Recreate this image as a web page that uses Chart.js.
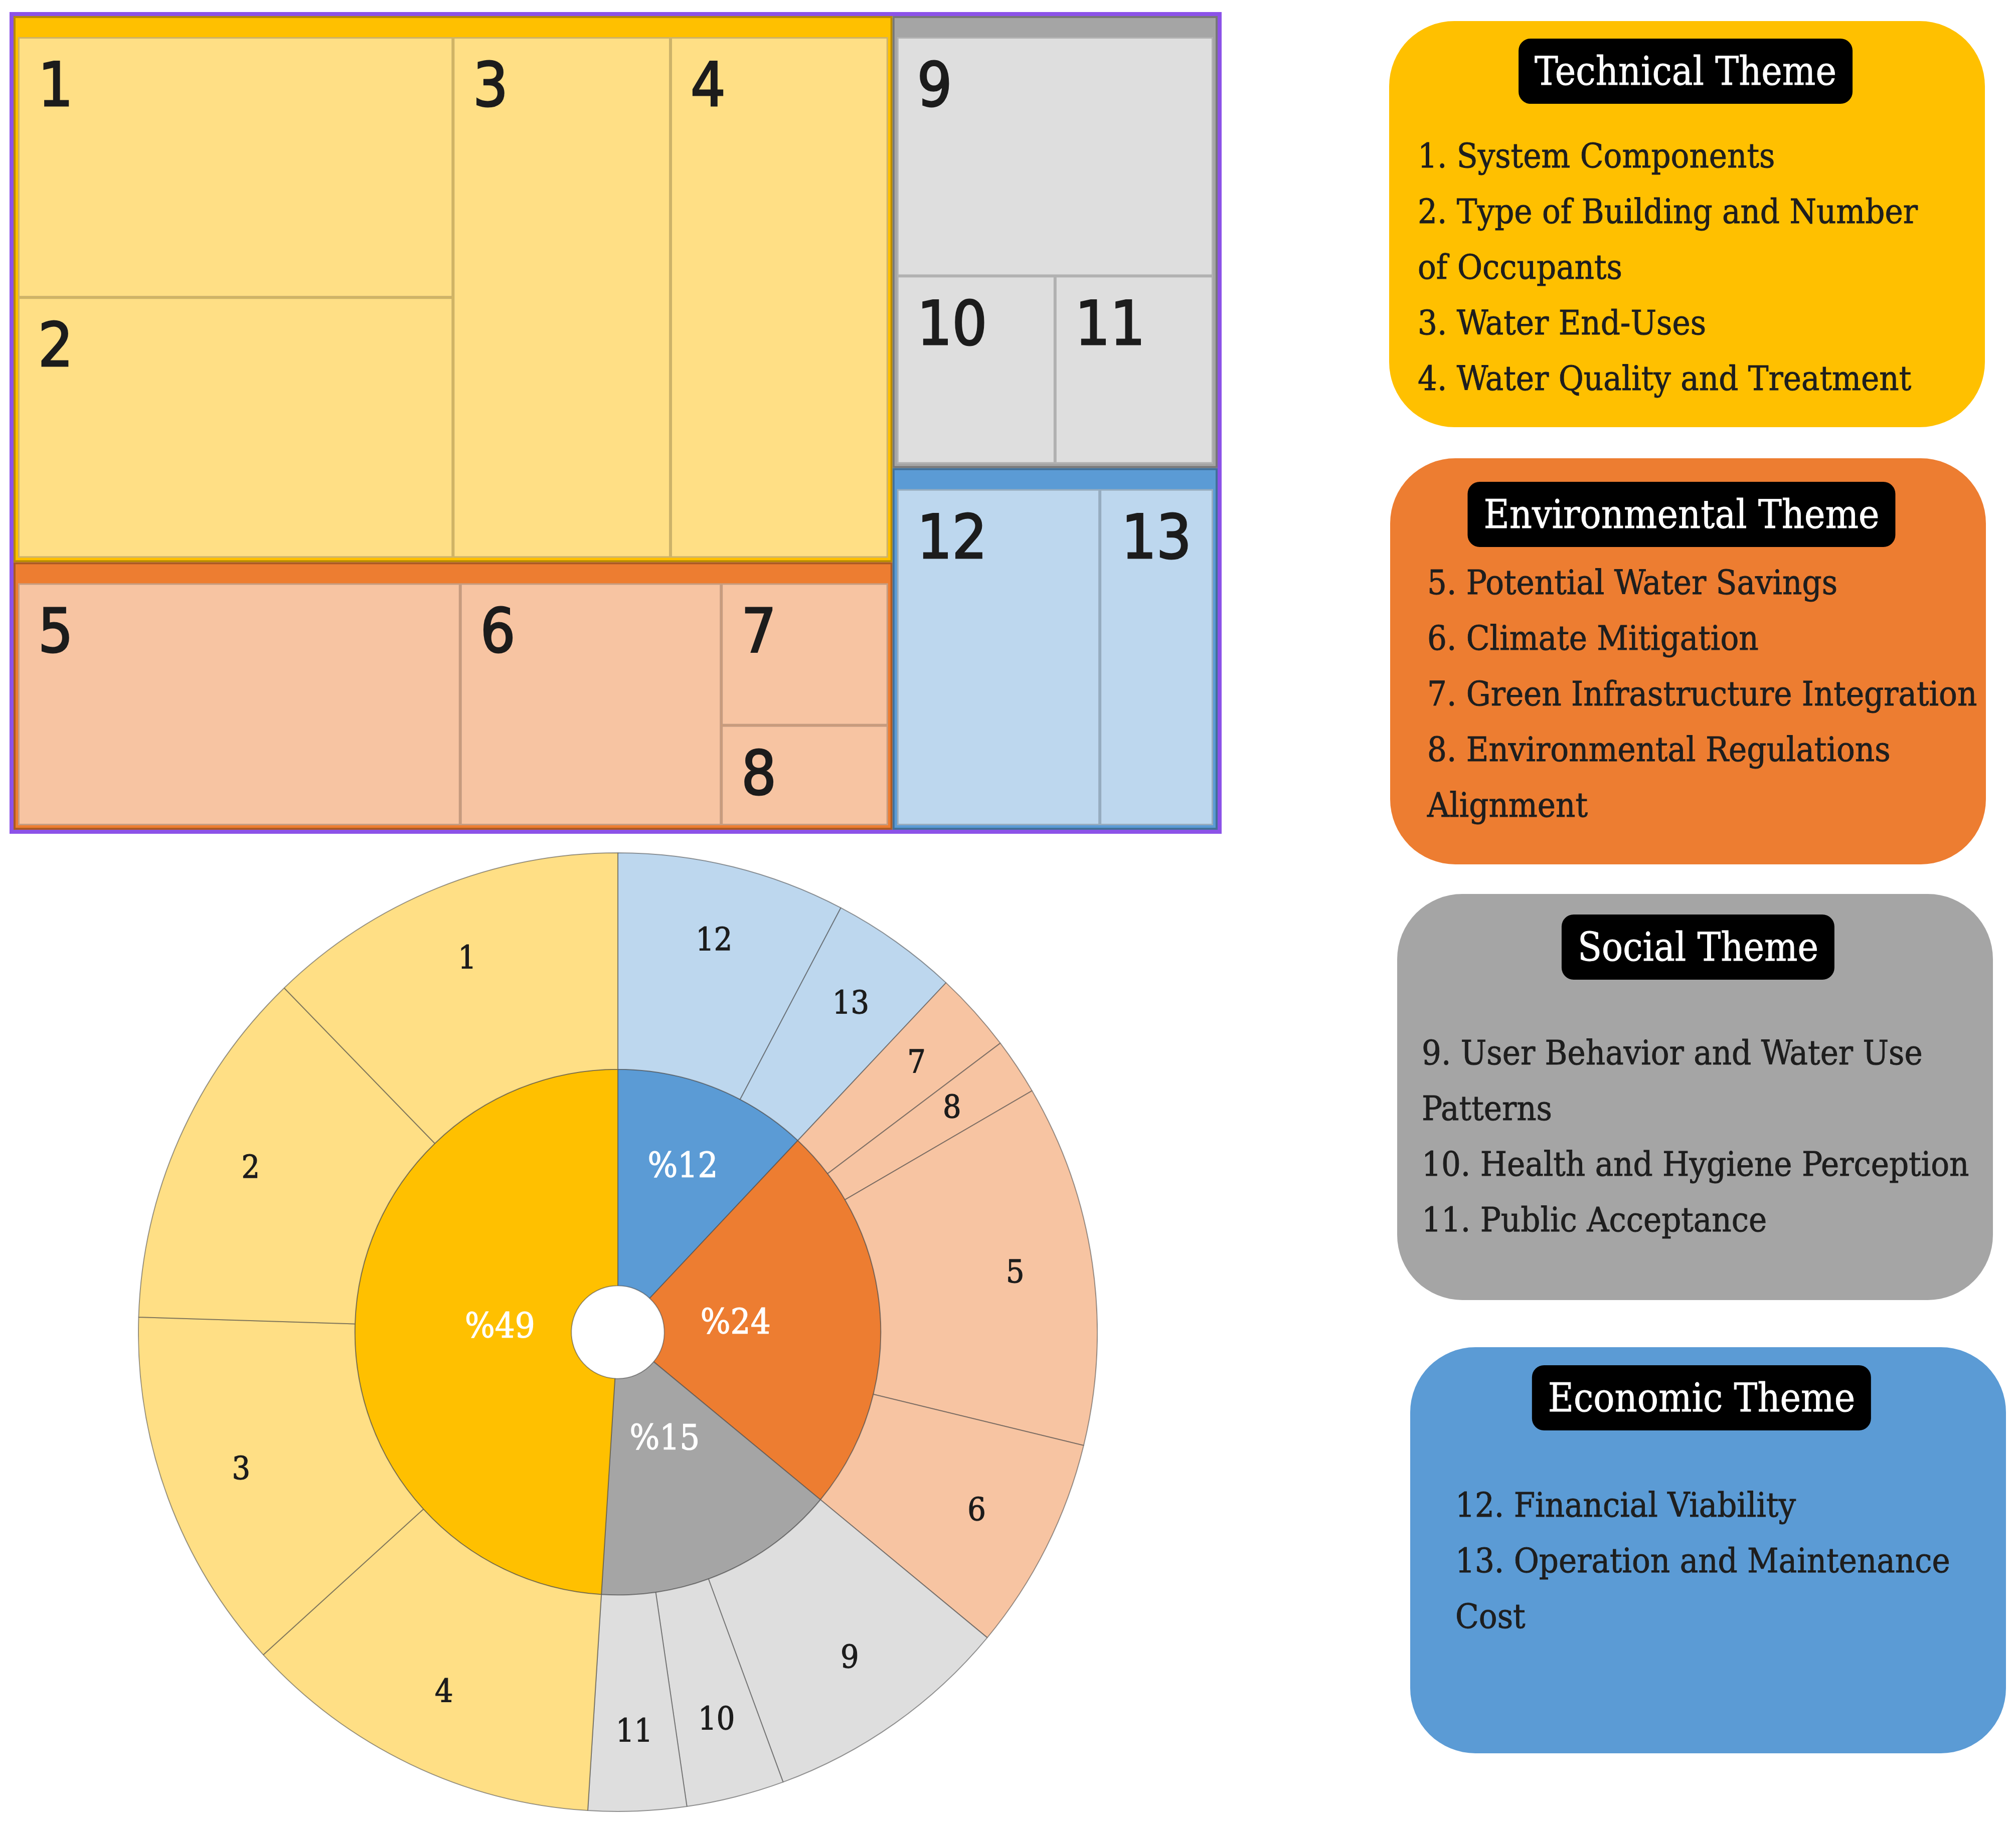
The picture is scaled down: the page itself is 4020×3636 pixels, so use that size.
<!DOCTYPE html>
<html>
<head>
<meta charset="utf-8">
<script src="https://cdn.jsdelivr.net/npm/chart.js@4.4.1/dist/chart.umd.min.js"></script>
<style>
  html, body { margin: 0; padding: 0; background: #fff; }
  body { width: 4020px; height: 3636px; position: relative; overflow: hidden;
         font-family: "DejaVu Serif Condensed", "DejaVu Serif", serif; }
  #treeWrap { position: absolute; left: 19px; top: 24px; width: 2401px; height: 1623px;
              border: 8px solid #8c52e8; }
  #treeWrap canvas, #sunWrap canvas { display: block; }
  #sunWrap { position: absolute; left: 275px; top: 1700px; width: 1914px; height: 1914px; }
  .theme { position: absolute; width: 1188px; height: 810px; border-radius: 130px; }
  .pill { position: absolute; background: #000; color: #fff; border-radius: 24px;
          height: 130px; line-height: 130px; padding: 0 32px; font-size: 78px; white-space: nowrap;
          -webkit-text-stroke: 0.8px #fff; }
  .items { position: absolute; font-size: 68px; line-height: 111px; color: #1e1e1e;
           -webkit-text-stroke: 0.9px #1e1e1e; }
</style>
</head>
<body>
<div id="treeWrap"><canvas id="tree" width="2401" height="1623"></canvas></div>
<div id="sunWrap"><canvas id="sun" width="1914" height="1914"></canvas></div>
<div id="legends"></div>
<script>
// themes (inner ring / treemap groups)
const themes = ['Technical', 'Environmental', 'Social', 'Economic'];
const themeShare = [49, 24, 15, 12];
const themeColor = ['#FFC000', '#ED7D31', '#A5A5A5', '#5B9BD5'];
const criterionColor = ['#FFDF85', '#F7C4A2', '#DEDEDE', '#BDD7EE'];

// criteria 1..13 (outer ring / treemap cells)
const criteria = [
  'System Components', 'Type of Building and Number of Occupants', 'Water End-Uses',
  'Water Quality and Treatment', 'Potential Water Savings', 'Climate Mitigation',
  'Green Infrastructure Integration', 'Environmental Regulations Alignment',
  'User Behavior and Water Use Patterns', 'Health and Hygiene Perception', 'Public Acceptance',
  'Financial Viability', 'Operation and Maintenance Cost'
];
const criterionTheme = [0, 0, 0, 0, 1, 1, 1, 1, 2, 2, 2, 3, 3];
const criterionShare = [12.25, 12.25, 12.25, 12.25, 12.2, 7.2, 2.7, 1.9, 8.4, 3.3, 3.3, 7.7, 4.3];

// order of slices around the sunburst, clockwise from 12 o'clock
const ringThemeOrder = [3, 1, 2, 0];
const ringCriterionOrder = [12, 13, 7, 8, 5, 6, 9, 10, 11, 4, 3, 2, 1];

// legend box placement
const boxLayout = [
  { left: 2770, top: 42,   pillTop: 35, pillDx: -3,  textLeft: 57, textTop: 213, textWidth: 1060 },
  { left: 2772, top: 914,  pillTop: 47, pillDx: -13, textLeft: 74, textTop: 192, textWidth: 1110 },
  { left: 2786, top: 1783, pillTop: 41, pillDx: 6,   textLeft: 49, textTop: 261, textWidth: 1120 },
  { left: 2812, top: 2687, pillTop: 36, pillDx: -13, textLeft: 90, textTop: 259, textWidth: 1080 }
];

const legends = document.getElementById('legends');
themes.forEach((t, i) => {
  const lay = boxLayout[i];
  const box = document.createElement('div');
  box.className = 'theme';
  box.style.left = lay.left + 'px';
  box.style.top = lay.top + 'px';
  box.style.background = themeColor[i];
  const pill = document.createElement('div');
  pill.className = 'pill';
  pill.textContent = t + ' Theme';
  pill.style.top = lay.pillTop + 'px';
  pill.style.left = '50%';
  pill.style.transform = 'translateX(calc(-50% + ' + lay.pillDx + 'px))';
  box.appendChild(pill);
  const list = document.createElement('div');
  list.className = 'items';
  list.style.left = lay.textLeft + 'px';
  list.style.top = lay.textTop + 'px';
  list.style.width = lay.textWidth + 'px';
  criteria.forEach((c, k) => {
    if (criterionTheme[k] !== i) return;
    const row = document.createElement('div');
    row.textContent = (k + 1) + '. ' + c;
    list.appendChild(row);
  });
  box.appendChild(list);
  legends.appendChild(box);
});

// squarified treemap layout (golden-ratio target), same rule as d3.treemapSquarify
const PHI = (1 + Math.sqrt(5)) / 2;
function squarify(nodes, x0, y0, x1, y1) {
  const out = [];
  let value = nodes.reduce((s, n) => s + n.value, 0);
  let i0 = 0;
  while (i0 < nodes.length) {
    const dx = x1 - x0, dy = y1 - y0;
    let i1 = i0;
    let sum = nodes[i1++].value, minV = sum, maxV = sum;
    const alpha = Math.max(dy / dx, dx / dy) / (value * PHI);
    let beta = sum * sum * alpha;
    let minRatio = Math.max(maxV / beta, beta / minV);
    for (; i1 < nodes.length; i1++) {
      const v = nodes[i1].value;
      const s2 = sum + v, mn = Math.min(minV, v), mx = Math.max(maxV, v);
      beta = s2 * s2 * alpha;
      const r = Math.max(mx / beta, beta / mn);
      if (r > minRatio) break;
      sum = s2; minV = mn; maxV = mx; minRatio = r;
    }
    const row = nodes.slice(i0, i1);
    if (dx < dy) {
      const h = dy * sum / value;
      let x = x0;
      row.forEach(n => { const w = dx * n.value / sum; out.push({ ...n, x0: x, y0: y0, x1: x + w, y1: y0 + h }); x += w; });
      y0 += h;
    } else {
      const w = dx * sum / value;
      let y = y0;
      row.forEach(n => { const h = dy * n.value / sum; out.push({ ...n, x0: x0, y0: y, x1: x0 + w, y1: y + h }); y += h; });
      x0 += w;
    }
    value -= sum;
    i0 = i1;
  }
  return out;
}

const treemapCells = {
  id: 'treemapCells',
  afterDraw(chart) {
    const { ctx } = chart;
    const xs = chart.scales.x, ys = chart.scales.y;
    const groups = squarify(themes.map((t, i) => ({ i, value: themeShare[i] })),
      xs.getPixelForValue(0), ys.getPixelForValue(0), xs.getPixelForValue(100), ys.getPixelForValue(100));
    ctx.save();
    groups.forEach(g => {
      ctx.fillStyle = themeColor[g.i];
      ctx.fillRect(g.x0, g.y0, g.x1 - g.x0, g.y1 - g.y0);
      ctx.lineWidth = 4;
      ctx.strokeStyle = 'rgba(0,0,0,0.28)';
      ctx.strokeRect(g.x0 + 2, g.y0 + 2, g.x1 - g.x0 - 4, g.y1 - g.y0 - 4);
      const kids = criteria.map((c, k) => ({ k, value: criterionShare[k] }))
        .filter(n => criterionTheme[n.k] === g.i);
      const cells = squarify(kids, g.x0 + 9, g.y0 + 42, g.x1 - 9, g.y1 - 9);
      cells.forEach(c => {
        ctx.fillStyle = criterionColor[g.i];
        ctx.fillRect(c.x0, c.y0, c.x1 - c.x0, c.y1 - c.y0);
        ctx.lineWidth = 3;
        ctx.strokeStyle = 'rgba(0,0,0,0.2)';
        ctx.strokeRect(c.x0 + 1.5, c.y0 + 1.5, c.x1 - c.x0 - 3, c.y1 - c.y0 - 3);
        const size = 122;
        ctx.font = size + 'px "DejaVu Sans Condensed", "DejaVu Sans", sans-serif';
        ctx.fillStyle = '#1c1c1c';
        ctx.strokeStyle = '#1c1c1c';
        ctx.lineWidth = 3;
        ctx.textBaseline = 'alphabetic';
        const label = String(c.k + 1);
        const tw = ctx.measureText(label).width;
        const cw = c.x1 - c.x0;
        let tx;
        if (tw * 2 > cw) { ctx.textAlign = 'center'; tx = c.x0 + cw / 2; }
        else { ctx.textAlign = 'left'; tx = c.x0 + 40; }
        const ty = c.y0 + 48 + size * 0.729;
        ctx.fillText(label, tx, ty);
        ctx.strokeText(label, tx, ty);
      });
    });
    ctx.restore();
  }
};

new Chart(document.getElementById('tree'), {
  type: 'scatter',
  data: { datasets: [{ data: [] }] },
  options: {
    responsive: false, animation: false, events: [],
    layout: { padding: 0 },
    scales: {
      x: { display: false, min: 0, max: 100 },
      y: { display: false, min: 0, max: 100, reverse: true }
    },
    plugins: { legend: { display: false }, tooltip: { enabled: false } }
  },
  plugins: [treemapCells]
});

// sunburst: outer ring = criteria, inner ring = themes
const sunLabels = {
  id: 'sunLabels',
  afterDatasetsDraw(chart) {
    const { ctx } = chart;
    ctx.save();
    ctx.textAlign = 'center';
    ctx.textBaseline = 'middle';
    ctx.lineWidth = 1.2;
    chart.data.datasets.forEach((ds, di) => {
      chart.getDatasetMeta(di).data.forEach((arc, k) => {
        const p = arc.getProps(['x', 'y', 'startAngle', 'endAngle', 'innerRadius', 'outerRadius'], true);
        const mid = (p.startAngle + p.endAngle) / 2;
        const span = p.endAngle - p.startAngle;
        let f, text, col;
        if (di === 0) {
          f = 0.64;
          text = String(ringCriterionOrder[k]);
          ctx.font = '64px "DejaVu Serif Condensed", "DejaVu Serif", serif';
          col = '#1c1c1c';
        } else {
          f = span < 0.9 ? 0.6 : 0.33;
          text = '%' + themeShare[ringThemeOrder[k]];
          ctx.font = '70px "DejaVu Serif Condensed", "DejaVu Serif", serif';
          col = '#ffffff';
        }
        ctx.fillStyle = col;
        ctx.strokeStyle = col;
        const r = p.innerRadius + f * (p.outerRadius - p.innerRadius);
        const tx = p.x + r * Math.cos(mid), ty = p.y + r * Math.sin(mid);
        ctx.fillText(text, tx, ty);
        ctx.strokeText(text, tx, ty);
      });
    });
    ctx.restore();
  }
};

new Chart(document.getElementById('sun'), {
  type: 'doughnut',
  data: {
    labels: ringCriterionOrder.map(String),
    datasets: [
      {
        data: ringCriterionOrder.map(c => criterionShare[c - 1]),
        backgroundColor: ringCriterionOrder.map(c => criterionColor[criterionTheme[c - 1]]),
        borderColor: 'rgba(70,70,70,0.55)',
        borderWidth: 2
      },
      {
        data: ringThemeOrder.map(t => themeShare[t]),
        backgroundColor: ringThemeOrder.map(t => themeColor[t]),
        borderColor: 'rgba(70,70,70,0.55)',
        borderWidth: 2
      }
    ]
  },
  options: {
    responsive: false, animation: false, events: [],
    cutout: '9.7%',
    hoverOffset: 0,
    layout: { padding: 0 },
    plugins: { legend: { display: false }, tooltip: { enabled: false } }
  },
  plugins: [sunLabels]
});
</script>
</body>
</html>
